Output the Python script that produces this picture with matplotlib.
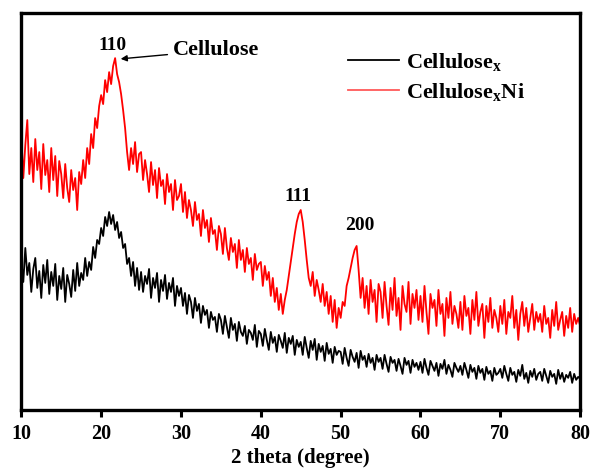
import numpy as np
import matplotlib
matplotlib.use('Agg')
import matplotlib.pyplot as plt

# 2 theta 축: 10 ~ 80, 0.25 간격
two_theta = np.arange(10, 80.001, 0.25)

# Cellulose_x (검정)
cellulose_x = [
    150, 128, 162, 135, 147, 118, 141, 152, 122, 139, 112, 145, 127, 150, 116, 138, 124, 146, 110, 134,
    121, 142, 108, 135, 126, 113, 140, 119, 147, 124, 137, 130, 152, 134, 148, 140, 163, 152, 170, 166,
    182, 174, 193, 184, 198, 186, 195, 180, 188, 172, 178, 162, 166, 146, 152, 134, 148, 124, 142, 120,
    138, 118, 134, 126, 141, 112, 132, 122, 137, 108, 130, 119, 135, 111, 127, 118, 132, 104, 124, 114,
    122, 104, 117, 96, 115, 108, 92, 112, 99, 106, 87, 104, 95, 100, 82, 98, 90, 93, 78, 96,
    90, 76, 94, 83, 72, 92, 80, 86, 69, 88, 78, 74, 84, 66, 80, 77, 70, 85, 63, 79,
    76, 64, 81, 70, 60, 78, 67, 73, 58, 75, 69, 62, 77, 57, 72, 66, 74, 55, 70, 63,
    68, 55, 73, 62, 52, 69, 60, 71, 50, 66, 58, 64, 49, 67, 56, 61, 47, 63, 55, 59,
    58, 46, 62, 52, 44, 60, 53, 48, 57, 42, 59, 50, 54, 43, 56, 47, 52, 40, 55, 48,
    52, 41, 55, 46, 38, 53, 47, 50, 39, 51, 44, 36, 52, 45, 49, 37, 50, 43, 47, 40,
    48, 37, 51, 42, 35, 49, 44, 39, 47, 34, 46, 41, 50, 36, 45, 40, 33, 47, 42, 38,
    44, 35, 47, 40, 32, 45, 38, 42, 31, 44, 37, 41, 30, 43, 36, 39, 29, 42, 35, 37,
    41, 32, 44, 36, 29, 42, 35, 38, 28, 40, 34, 45, 31, 37, 27, 39, 33, 41, 30, 36,
    38, 29, 41, 34, 27, 39, 33, 36, 26, 40, 31, 37, 28, 35, 32, 38, 27, 36, 30, 33,
    31,
]

# Cellulose_x Ni (빨강)
cellulose_x_ni = [
    275, 232, 265, 290, 236, 262, 228, 271, 240, 258, 221, 266, 235, 250, 218, 262, 230, 254, 214, 249,
    236, 212, 246, 222, 208, 240, 220, 232, 200, 238, 226, 250, 232, 262, 246, 276, 262, 292, 282, 304,
    315, 306, 330, 318, 338, 326, 344, 352, 336, 328, 316, 300, 282, 258, 240, 262, 246, 268, 238, 256,
    258, 230, 250, 236, 218, 248, 225, 240, 212, 242, 224, 230, 206, 236, 218, 226, 200, 230, 210, 214,
    226, 198, 218, 192, 210, 200, 184, 208, 190, 196, 174, 200, 182, 190, 168, 192, 176, 180, 160, 184,
    176, 156, 182, 162, 150, 172, 158, 166, 142, 170, 150, 160, 138, 162, 146, 152, 130, 156, 140, 146,
    148, 124, 144, 130, 138, 114, 132, 108, 122, 100, 116, 96, 110, 120, 134, 148, 162, 176, 188, 196,
    200, 188, 170, 150, 132, 124, 138, 114, 130, 120, 108, 126, 104, 118, 96, 114, 88, 110, 82, 102,
    92, 108, 104, 124, 132, 142, 152, 160, 164, 140, 112, 132, 102, 124, 96, 130, 108, 120, 88, 126,
    118, 92, 128, 104, 85, 122, 100, 132, 94, 112, 80, 124, 106, 98, 128, 86, 116, 102, 120, 90,
    114, 88, 124, 98, 76, 116, 102, 110, 84, 120, 96, 106, 74, 112, 92, 118, 86, 104, 96, 82,
    108, 80, 114, 94, 102, 76, 110, 90, 118, 84, 98, 106, 72, 104, 88, 112, 82, 100, 92, 78,
    104, 86, 110, 76, 98, 92, 114, 82, 100, 70, 96, 108, 84, 102, 78, 92, 106, 80, 98, 88,
    96, 78, 104, 86, 92, 72, 100, 84, 108, 80, 90, 98, 74, 94, 82, 102, 78, 96, 86, 92,
    84,
]

x_ticks = [10, 20, 30, 40, 50, 60, 70, 80]

plt.rcParams['font.family'] = ['Liberation Serif', 'DejaVu Serif']
plt.rcParams['font.weight'] = 'bold'
plt.rcParams['mathtext.fontset'] = 'custom'
plt.rcParams['mathtext.rm'] = 'Liberation Serif:bold'
plt.rcParams['mathtext.it'] = 'Liberation Serif:bold'
plt.rcParams['mathtext.bf'] = 'Liberation Serif:bold'

fig = plt.figure(figsize=(5.92, 4.70), dpi=100)
ax = fig.add_axes([0.036, 0.128, 0.944, 0.844])

ax.plot(two_theta, cellulose_x, color='black', lw=1.3, label=r'Cellulose$_{\mathrm{x}}$')
ax.plot(two_theta, cellulose_x_ni, color='red', lw=1.3, label=r'Cellulose$_{\mathrm{x}}$Ni')

ax.set_xlim(10, 80)
ax.set_ylim(0, 397)
ax.set_xticks(x_ticks)
ax.set_yticks([])
ax.tick_params(axis='x', direction='out', length=5, width=2.2, labelsize=14.5, pad=5)
for s in ax.spines.values():
    s.set_linewidth(2.4)
ax.set_xlabel('2 theta (degree)', fontsize=15, fontweight='bold', labelpad=3)

# 피크 표시
ax.text(21.4, 365, '110', fontsize=14, fontweight='bold', ha='center', va='center')
ax.annotate('Cellulose', xy=(22.1, 351), xytext=(29.0, 360),
            fontsize=16, fontweight='bold', ha='left', va='center',
            arrowprops=dict(arrowstyle='-|>', color='black', lw=1.0, mutation_scale=9))
ax.text(44.7, 214, '111', fontsize=14, fontweight='bold', ha='center', va='center')
ax.text(52.4, 184, '200', fontsize=14, fontweight='bold', ha='center', va='center')

leg = ax.legend(loc='upper left', bbox_to_anchor=(0.549, 0.955), frameon=False,
                fontsize=16, handlelength=2.3, handletextpad=0.3, labelspacing=0.35)
leg.get_lines()[1].set_alpha(0.65)

plt.savefig('out.png', dpi=100)
